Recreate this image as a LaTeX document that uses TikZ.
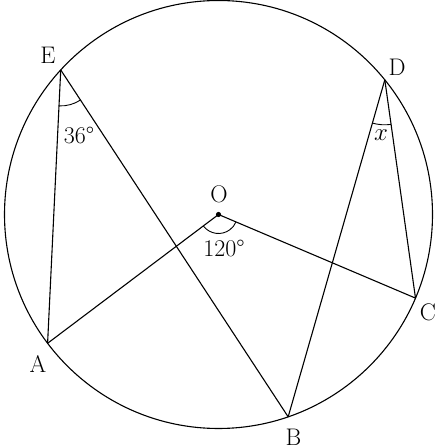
\documentclass[tikz,border=0pt]{standalone}
\usetikzlibrary{calc,angles}
\begin{document}
\begin{tikzpicture}[line width=1.1pt,
  lbl/.style={font=\fontsize{24}{28}\selectfont, inner sep=0pt},
  ang/.style={draw, line width=0.9pt}]
\useasboundingbox (0,0) rectangle (440pt,447pt);
\coordinate (O) at (218.5pt,232.5pt);
\def\R{214pt}
\coordinate (A) at ($(O)+(217:\R)$);
\coordinate (B) at ($(O)+(289:\R)$);
\coordinate (C) at ($(O)+(337:\R)$);
\coordinate (D) at ($(O)+(39:\R)$);
\coordinate (E) at ($(O)+(137.5:\R)$);
\draw (O) circle[radius=\R];
\draw (E) -- (A);
\draw (E) -- (B);
\draw (A) -- (O) -- (C);
\draw (D) -- (B);
\draw (D) -- (C);
\pic[ang, angle radius=36pt] {angle=A--E--B};
\pic[ang, angle radius=45pt] {angle=B--D--C};
\pic[ang, angle radius=19pt] {angle=A--O--C};
\fill (O) circle[radius=2.6pt];
\node[lbl] (lE) at (48pt,392pt) {E};
\node[lbl] (lD) at (397pt,380pt) {D};
\node[lbl] (lA) at (38pt,83pt) {A};
\node[lbl, anchor=base] (lB) at (293.5pt,1.5pt) {B};
\node[lbl] (lC) at (428pt,135pt) {C};
\node[lbl] (lO) at (219pt,253pt) {O};
\node[lbl] (l36) at (79pt,311pt) {36\textdegree};
\node[lbl] (lx) at (381pt,312pt) {$x$};
\node[lbl] (l120) at (224pt,199pt) {120\textdegree};
\end{tikzpicture}
\end{document}
